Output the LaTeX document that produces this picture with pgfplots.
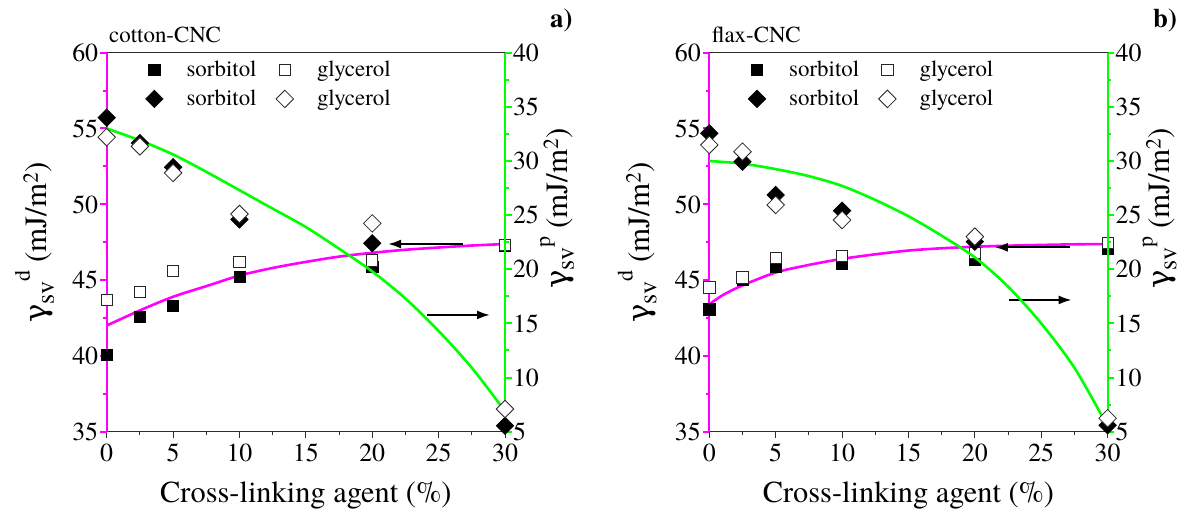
\documentclass[border=0pt]{standalone}
\usepackage{pgfplots}
\pgfplotsset{compat=1.18}
\usepackage{fontspec}
\IfFontExistsTF{texgyretermes-regular.otf}
  {\setmainfont{texgyretermes}[Extension=.otf, UprightFont=*-regular, BoldFont=*-bold, ItalicFont=*-italic, BoldItalicFont=*-bolditalic]}
  {\setmainfont{DejaVu Serif}}
\newfontfamily\grk{DejaVu Serif}
\usetikzlibrary{arrows.meta}
\definecolor{mag}{RGB}{255,0,255}
\definecolor{grn}{RGB}{0,255,0}
\definecolor{axgray}{RGB}{45,45,45}

\newcommand{\gsv}[1]{{\grk γ}\raisebox{-0.22em}{\fontsize{26}{26}\selectfont sv}\raisebox{0.55em}{\fontsize{22}{22}\selectfont #1}}

\tikzset{
  sqf/.style={only marks, mark=square*, mark size=5.6bp, mark options={fill=black, draw=black, line width=0.6bp}},
  sqo/.style={only marks, mark=square*, mark size=5.6bp, mark options={fill=white, draw=black!85, line width=0.8bp}},
  dmf/.style={only marks, mark=square*, mark size=6.2bp, mark options={rotate=45, fill=black, draw=black, line width=0.6bp}},
  dmo/.style={only marks, mark=square*, mark size=6.2bp, mark options={rotate=45, fill=white, draw=black!85, line width=0.8bp}},
  arr/.style={line width=2bp, -{Latex[length=13bp,width=9bp]}},
}

\pgfplotsset{
  panel/.style={
    scale only axis, width=398.3bp, height=379bp,
    xmin=0, xmax=30, clip=false, axis on top,
    tick align=outside,
    major tick length=6.5bp, minor tick length=3.5bp,
    /pgf/number format/assume math mode=true,
    tick label style={font=\fontsize{26}{28}\selectfont},
  },
  leftax/.style={
    axis x line*=bottom, axis y line*=left,
    panel,
    ymin=35, ymax=60, ytick={35,40,...,60}, minor y tick num=1,
    xtick={0,5,...,30}, minor x tick num=1,
    x axis line style={axgray, line width=1.2bp},
    y axis line style={mag, line width=2bp},
    xtick style={axgray, line width=1bp},
    ytick style={mag, line width=2bp},
    xticklabel style={yshift=-2bp},
    yticklabel style={xshift=1.5bp},
    xlabel={Cross-linking agent (\%)},
    xlabel style={at={(rel axis cs:0.5,-0.188)}, anchor=base, font=\fontsize{30.5}{32}\selectfont},
    ylabel={\gsv{d} (mJ/m\textsuperscript{2})},
    ylabel style={at={(rel axis cs:-0.15,0.5)}, anchor=base, font=\fontsize{31}{32}\selectfont},
  },
  rightax/.style={
    axis x line=none, axis y line*=right,
    panel,
    ymin=5, ymax=40, ytick={5,10,...,40}, minor y tick num=1,
    y axis line style={grn, line width=2bp},
    ytick style={grn, line width=2bp},
    yticklabel style={xshift=-2bp},
    ylabel={\gsv{p} (mJ/m\textsuperscript{2})},
    ylabel style={at={(rel axis cs:1.1557,0.589)}, anchor=base, font=\fontsize{31}{32}\selectfont},
    legend columns=2,
    legend style={at={(rel axis cs:0.0936,0.9815)}, anchor=north west, draw=none, fill=none,
      inner sep=0pt, font=\fontsize{23}{25}\selectfont,
      nodes={inner sep=1bp, text height=16bp, text depth=5bp},
      cells={anchor=base west}, row sep=6bp,
      /tikz/every even column/.append style={column sep=17bp}},
    legend image code/.code={\draw[##1] plot coordinates {(0bp,7bp)}; \path (-10bp,0bp) (31bp,0bp);},
  },
}

\begin{document}
\begin{tikzpicture}
\useasboundingbox (0,0) rectangle (1184bp,515bp);

% ================= Panel a =================
\begin{axis}[leftax, at={(106.7bp,83.3bp)}, anchor=south west]
\addplot[mag, line width=2.6bp, smooth] coordinates {
 (0,42.0) (2.5,43.0) (5,43.9) (7.5,44.6) (10,45.3) (12.5,45.8) (15,46.2)
 (17.5,46.55) (20,46.8) (22.5,47.0) (25,47.15) (27.5,47.28) (30,47.38)};
\addplot[sqf] coordinates {(0,40.05) (2.5,42.6) (5,43.3) (10,45.2) (20,45.9) (30,47.3)};
\addplot[sqo] coordinates {(0,43.7) (2.5,44.2) (5,45.6) (10,46.2) (20,46.3) (30,47.32)};
\draw[arr] (axis cs:26.84,47.38) -- (axis cs:21.19,47.38);
\draw[arr] (axis cs:24.14,42.70) -- (axis cs:28.87,42.70);
\draw[axgray, line width=1.2bp] (rel axis cs:0,1) -- (rel axis cs:1,1);
\node[anchor=base west, font=\fontsize{23}{25}\selectfont, inner sep=0pt] at (rel axis cs:0.0058,1.0256) {cotton-CNC};
\node[anchor=base west, font=\fontsize{27}{28}\selectfont\bfseries, inner sep=0pt] at (rel axis cs:1.113,1.0678) {a)};
\end{axis}
\begin{axis}[rightax, at={(106.7bp,83.3bp)}, anchor=south west]
\addlegendimage{sqf}
\addlegendentry{sorbitol}
\addlegendimage{sqo}
\addlegendentry{glycerol}
\addplot[grn, line width=2.6bp, smooth, forget plot] coordinates {
 (0,33.0) (2.5,31.9) (5,30.6) (7.5,29.0) (10,27.3) (12.5,25.6) (15,23.9)
 (17.5,21.9) (20,19.8) (22.5,17.3) (25,14.3) (27.5,10.9) (30,6.9)};
\addplot[dmf] coordinates {(0,34.0) (2.5,31.65) (5,29.42) (10,24.6) (20,22.4) (30,5.55)};
\addlegendentry{sorbitol}
\addplot[dmo] coordinates {(0,32.2) (2.5,31.35) (5,28.9) (10,25.1) (20,24.24) (30,7.1)};
\addlegendentry{glycerol}
\end{axis}

% ================= Panel b =================
\begin{axis}[leftax, at={(709.3bp,83.3bp)}, anchor=south west]
\addplot[mag, line width=2.6bp, smooth] coordinates {
 (0,43.4) (1,44.0) (2.5,44.65) (5,45.5) (7.5,46.0) (10,46.4) (12.5,46.7) (15,46.95)
 (17.5,47.1) (20,47.2) (22.5,47.27) (25,47.32) (27.5,47.36) (30,47.38)};
\addplot[sqf] coordinates {(0,43.07) (2.5,45.0) (5,45.88) (10,46.06) (20,46.37) (30,47.1)};
\addplot[sqo] coordinates {(0,44.52) (2.5,45.18) (5,46.48) (10,46.59) (20,46.77) (30,47.47)};
\draw[arr] (axis cs:27.16,47.16) -- (axis cs:21.51,47.16);
\draw[arr] (axis cs:22.6,43.69) -- (axis cs:27.29,43.69);
\draw[axgray, line width=1.2bp] (rel axis cs:0,1) -- (rel axis cs:1,1);
\node[anchor=base west, font=\fontsize{23}{25}\selectfont, inner sep=0pt] at (rel axis cs:0.0058,1.0256) {flax-CNC};
\node[anchor=base west, font=\fontsize{27}{28}\selectfont\bfseries, inner sep=0pt] at (rel axis cs:1.1137,1.0678) {b)};
\end{axis}
\begin{axis}[rightax, at={(709.3bp,83.3bp)}, anchor=south west]
\addlegendimage{sqf}
\addlegendentry{sorbitol}
\addlegendimage{sqo}
\addlegendentry{glycerol}
\addplot[grn, line width=2.6bp, smooth, forget plot] coordinates {
 (0,30.0) (2.5,29.75) (5,29.25) (7.5,28.6) (10,27.7) (12.5,26.4) (15,24.9)
 (17.5,23.1) (20,21.1) (22.5,18.4) (25,15.0) (27.5,10.9) (30,5.5)};
\addplot[dmf] coordinates {(0,32.56) (2.5,29.93) (5,26.86) (10,25.41) (20,22.55) (30,5.6)};
\addlegendentry{sorbitol}
\addplot[dmo] coordinates {(0,31.48) (2.5,30.86) (5,25.94) (10,24.55) (20,23.01) (30,6.24)};
\addlegendentry{glycerol}
\end{axis}
\end{tikzpicture}
\end{document}
